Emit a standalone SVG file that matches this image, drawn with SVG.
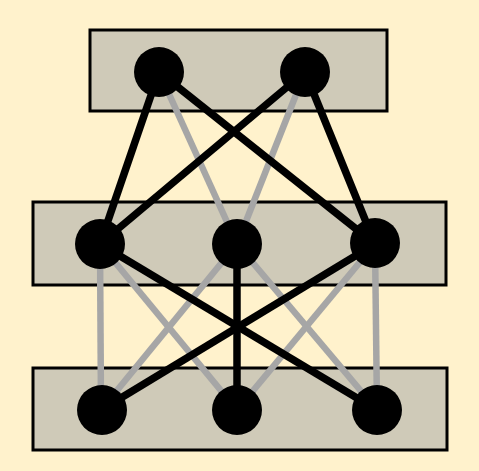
<svg xmlns="http://www.w3.org/2000/svg" width="479" height="471" viewBox="0 0 479 471">
<style>
.layer{fill:#CFCAB8;stroke:#000;stroke-width:3}
.g{stroke:#A6A6A6;stroke-width:6.5;fill:none}
.b{stroke:#000;stroke-width:7.5;fill:none}
.n{fill:#000}
</style>
<rect x="0" y="0" width="479" height="471" fill="#FFF2CC"/>
<g id="layers">
<rect id="layer-top" class="layer" x="90" y="30" width="297" height="81"/>
<rect id="layer-mid" class="layer" x="33" y="202" width="413" height="83"/>
<rect id="layer-bot" class="layer" x="33" y="368" width="414" height="82"/>
</g>
<g id="connectors">
<line class="g" x1="159" y1="72" x2="237" y2="244"/>
<line class="g" x1="305" y1="72" x2="237" y2="244"/>
<line class="g" x1="100" y1="244" x2="101" y2="410"/>
<line class="g" x1="100" y1="244" x2="237" y2="410"/>
<line class="g" x1="237" y1="244" x2="101" y2="410"/>
<line class="g" x1="237" y1="244" x2="377" y2="410"/>
<line class="g" x1="375" y1="244" x2="237" y2="410"/>
<line class="g" x1="375" y1="244" x2="377" y2="410"/>
<line class="b" x1="159" y1="72" x2="100" y2="244"/>
<line class="b" x1="159" y1="72" x2="375" y2="244"/>
<line class="b" x1="305" y1="72" x2="100" y2="244"/>
<line class="b" x1="305" y1="72" x2="375" y2="244"/>
<line class="b" x1="100" y1="244" x2="377" y2="410"/>
<line class="b" x1="375" y1="244" x2="101" y2="410"/>
<line class="b" x1="237" y1="244" x2="237" y2="410"/>
</g>
<g id="n-top-1"><circle class="n" cx="159" cy="72" r="25"/></g>
<g id="n-top-2"><circle class="n" cx="305" cy="72" r="25"/></g>
<g id="n-mid-1"><circle class="n" cx="100" cy="244" r="25"/></g>
<g id="n-mid-2"><circle class="n" cx="237" cy="244" r="25"/></g>
<g id="n-mid-3"><circle class="n" cx="375" cy="243" r="25"/></g>
<g id="n-bot-1"><circle class="n" cx="102" cy="410" r="25"/></g>
<g id="n-bot-2"><circle class="n" cx="237" cy="410" r="25"/></g>
<g id="n-bot-3"><circle class="n" cx="377" cy="410" r="25"/></g>
</svg>
